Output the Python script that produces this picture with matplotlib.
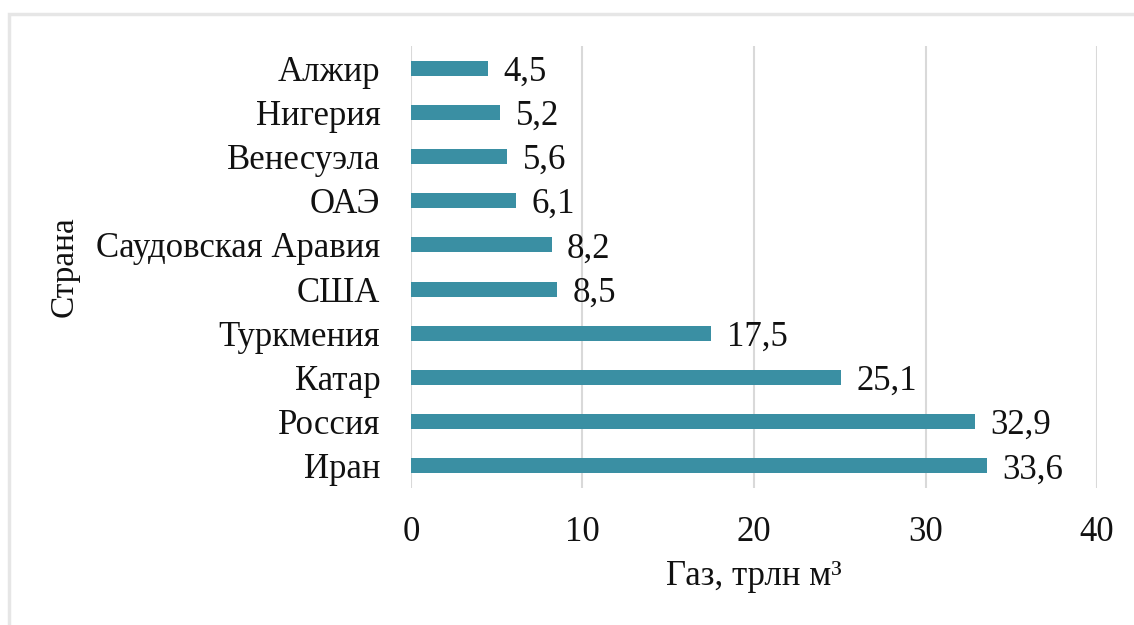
import matplotlib.pyplot as plt
from matplotlib.patches import Rectangle

# data (bottom to top)
countries = ['Иран', 'Россия', 'Катар', 'Туркмения', 'США',
             'Саудовская Аравия', 'ОАЭ', 'Венесуэла', 'Нигерия', 'Алжир']
gas = [33.6, 32.9, 25.1, 17.5, 8.5, 8.2, 6.1, 5.6, 5.2, 4.5]
gas_labels = ['33,6', '32,9', '25,1', '17,5', '8,5', '8,2', '6,1', '5,6', '5,2', '4,5']

plt.rcParams['font.family'] = ['Liberation Serif', 'DejaVu Serif']

fig = plt.figure(figsize=(11.34, 6.25), dpi=100)
ax = fig.add_axes([0.3624, 0.2192, 0.605, 0.7072])

# light frame around the picture
fig.patches.append(Rectangle((9 / 1134, -0.1), 1.2, 1 - 14 / 625 + 0.1,
                             transform=fig.transFigure, fill=False,
                             edgecolor='#e6e6e6', linewidth=2.5))

y = range(len(countries))
ax.barh(y, gas, height=0.34, color='#3a8fa3', zorder=3)
for yi, v, lab in zip(y, gas, gas_labels):
    ax.text(v + 0.9, yi, lab, va='center_baseline', ha='left', fontsize=25, color='#111111')

ax.set_xlim(0, 40)
ax.set_ylim(-0.5, 9.5)
ax.set_xticks([0, 10, 20, 30, 40])
ax.set_yticks(list(y))
ax.set_yticklabels(countries)
ax.tick_params(axis='both', length=0, labelsize=25, colors='#111111')
ax.tick_params(axis='x', pad=20)
ax.tick_params(axis='y', pad=22)
ax.grid(axis='x', color='#d9d9d9', linewidth=1.5, zorder=0)
for s in ax.spines.values():
    s.set_visible(False)

ax.set_xlabel('Газ, трлн м³', fontsize=25, color='#111111', labelpad=8)
ax.set_ylabel('Страна', fontsize=24, color='#111111', labelpad=12)

fig.savefig('out.png', dpi=100)
